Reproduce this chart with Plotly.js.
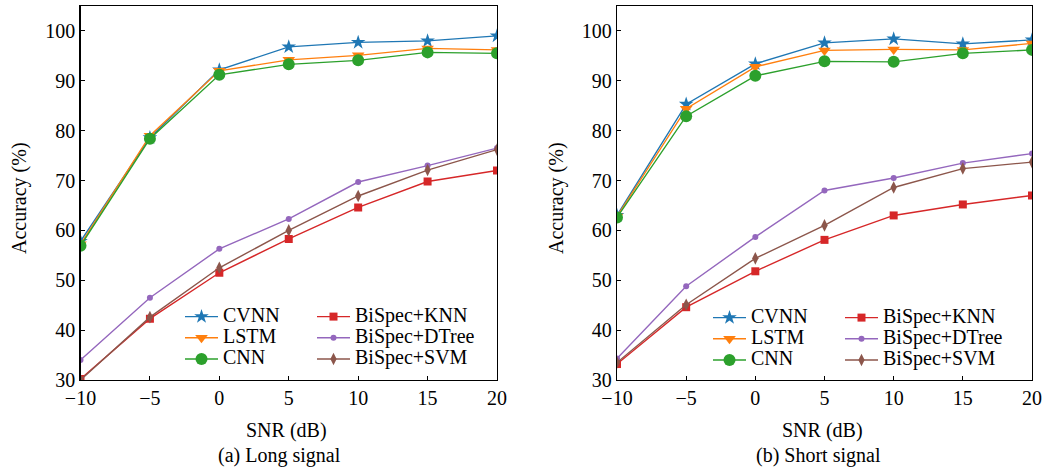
<!DOCTYPE html>
<html><head><meta charset="utf-8">
<script src="https://cdn.plot.ly/plotly-3.0.1.min.js"></script>
<style>html,body{margin:0;padding:0;background:#fff}#c{width:1043px;height:473px}</style>
</head><body><div id="c"></div>
<script>
const snr = [-10, -5, 0, 5, 10, 15, 20];
const seriesNames = ["CVNN", "LSTM", "CNN", "BiSpec+KNN", "BiSpec+DTree", "BiSpec+SVM"];
// (a) Long signal
const longCVNN  = [57.8, 78.6, 92.2, 96.8, 97.7, 98.0, 99.0];
const longLSTM  = [57.2, 79.0, 92.0, 94.2, 95.1, 96.5, 96.2];
const longCNN   = [56.9, 78.4, 91.2, 93.3, 94.1, 95.7, 95.5];
const longKNN   = [30.2, 42.3, 51.5, 58.3, 64.6, 69.8, 72.0];
const longDTree = [34.0, 46.5, 56.3, 62.3, 69.7, 73.0, 76.5];
const longSVM   = [30.0, 42.6, 52.5, 60.0, 66.9, 72.1, 76.2];
// (b) Short signal
const shortCVNN  = [63.0, 85.3, 93.4, 97.6, 98.4, 97.4, 98.2];
const shortLSTM  = [62.8, 84.4, 92.8, 96.1, 96.3, 96.2, 97.5];
const shortCNN   = [62.6, 82.9, 91.0, 93.9, 93.8, 95.5, 96.2];
const shortKNN   = [33.2, 44.6, 51.8, 58.1, 63.0, 65.2, 67.0];
const shortDTree = [34.3, 48.8, 58.7, 68.0, 70.5, 73.5, 75.4];
const shortSVM   = [33.5, 45.1, 54.4, 61.0, 68.6, 72.4, 73.7];
const xTicks = [-10, -5, 0, 5, 10, 15, 20];
const xTickText = ["\u221210", "\u22125", "0", "5", "10", "15", "20"];
const yTicks = [30, 40, 50, 60, 70, 80, 90, 100];

const colors = ["#1f77b4", "#ff7f0e", "#2ca02c", "#d62728", "#9467bd", "#8c564b"];
const symbols = ["star", "triangle-down", "circle", "square", "circle", "diamond-tall"];
const msizes = [11, 11, 12, 8, 6, 9];
const FONT = "Liberation Serif, Times New Roman, serif";

const longData = [longCVNN, longLSTM, longCNN, longKNN, longDTree, longSVM];
const shortData = [shortCVNN, shortLSTM, shortCNN, shortKNN, shortDTree, shortSVM];

const traces = [];
function addSet(data, xa, ya, legA, legB) {
  data.forEach((ys, i) => {
    traces.push({
      x: snr, y: ys, xaxis: xa, yaxis: ya, type: "scatter", mode: "lines+markers",
      name: '<span style="font-size:20px">' + seriesNames[i] + '</span>',
      legend: i < 3 ? legA : legB,
      line: {color: colors[i], width: 1.4},
      marker: {color: colors[i], symbol: symbols[i], size: msizes[i], line: {width: 0}},
      cliponaxis: true
    });
  });
}
addSet(longData, "x", "y", "legend", "legend2");
addSet(shortData, "x2", "y2", "legend3", "legend4");

const W = 1043, H = 473;
const px = v => v / W, py = v => 1 - v / H;

function xa(domain, anchor) {
  return {domain: domain, anchor: anchor, range: [-10, 20], tickvals: xTicks, ticktext: xTickText,
    ticks: "inside", ticklen: 4, tickcolor: "#000", showline: true, linecolor: "#000", linewidth: 1.2,
    mirror: true, showgrid: false, zeroline: false, tickfont: {family: FONT, size: 20, color: "#000"}};
}
function ya(domain, anchor) {
  return {domain: domain, anchor: anchor, range: [30, 105], tickvals: yTicks,
    ticks: "inside", ticklen: 4, tickcolor: "#000", showline: true, linecolor: "#000", linewidth: 1.2,
    mirror: true, showgrid: false, zeroline: false, tickfont: {family: FONT, size: 20, color: "#000"}};
}
const yd = [py(380), py(6)];
function leg(x, y) {
  return {x: px(x), y: py(y), xanchor: "left", yanchor: "top", bgcolor: "rgba(0,0,0,0)",
    borderwidth: 0, font: {family: FONT, size: 14, color: "#000"}, tracegroupgap: 0, itemwidth: 33};
}
const annFont = {family: FONT, size: 20, color: "#000"};
function ann(text, x, y, angle) {
  return {text: text, x: px(x), y: py(y), xref: "paper", yref: "paper", xanchor: "center", yanchor: "middle",
    textangle: angle || 0, showarrow: false, font: annFont};
}
const layout = {
  width: W, height: H, margin: {l: 0, r: 0, t: 0, b: 0},
  paper_bgcolor: "#fff", plot_bgcolor: "#fff", showlegend: true,
  xaxis: xa([px(80.5), px(497)], "y"),
  yaxis: ya(yd, "x"),
  xaxis2: xa([px(617), px(1032)], "y2"),
  yaxis2: ya(yd, "x2"),
  legend: leg(180, 301),
  legend2: leg(312, 301),
  legend3: leg(708, 302),
  legend4: leg(840, 302),
  annotations: [
    ann("Accuracy (%)", 19, 198, -90),
    ann("Accuracy (%)", 556, 198, -90),
    ann("SNR (dB)", 286, 430),
    ann("SNR (dB)", 822, 430),
    ann("(a) Long signal", 279, 455),
    ann("(b) Short signal", 818, 455)
  ]
};
Plotly.newPlot("c", traces, layout, {staticPlot: true, displayModeBar: false});
</script></body></html>
